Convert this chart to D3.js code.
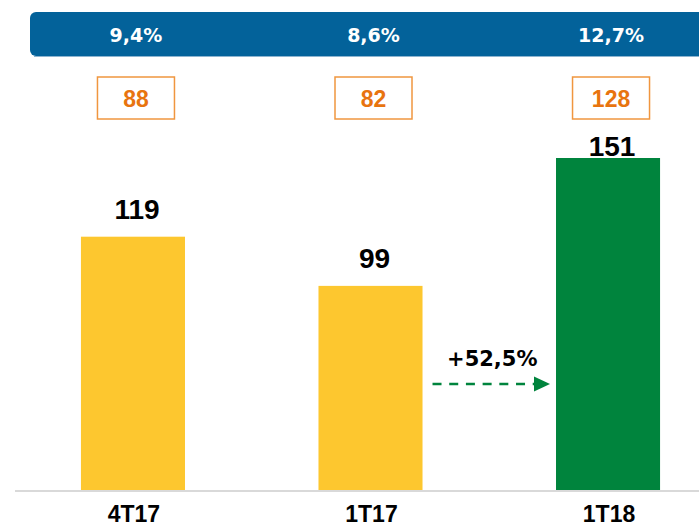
<!DOCTYPE html>
<html>
<head>
<meta charset="utf-8">
<script src="https://cdn.jsdelivr.net/npm/d3@7"></script>
<style>
	body { margin: 0; background: #fff; overflow: hidden; }
	text { font-family: 'Liberation Sans', Arial, sans-serif; font-weight: bold; }
</style>
</head>
<body>
<script>
const width = 699
const height = 529

// data
const categories = ['4T17', '1T17', '1T18']
const values = [119, 99, 151]
const boxValues = [88, 82, 128]
const bandLabels = ['9,4%', '8,6%', '12,7%']
const growthLabel = '+52,5%'

const colors = ['#fdc72f', '#fdc72f', '#00843d']

const svg = d3.select('body').append('svg')
	.attr('width', width)
	.attr('height', height)

const x = d3.scaleBand()
	.domain(categories)
	.range([14.2, 726.8])
	.paddingInner(0.562)
	.paddingOuter(0.281)

const baseline = 490
const y = d3.scaleLinear()
	.domain([16, d3.max(values)])
	.range([baseline, 158])

const cx = d => x(d) + x.bandwidth() / 2

// blue band on top
svg.append('rect')
	.attr('x', 30)
	.attr('y', 12)
	.attr('width', 700)
	.attr('height', 44)
	.attr('rx', 6)
	.attr('fill', '#03629a')

svg.append('line')
	.attr('x1', 34).attr('x2', 699)
	.attr('y1', 56.5).attr('y2', 56.5)
	.attr('stroke', '#8db4d0')
	.attr('stroke-width', 1)

svg.selectAll('.band-label')
	.data(bandLabels)
	.enter()
	.append('text')
		.attr('class', 'band-label')
		.attr('x', (d, i) => cx(categories[i]) + 3)
		.attr('y', 41.5)
		.attr('text-anchor', 'middle')
		.attr('fill', '#fff')
		.style('font-family', "'DejaVu Sans', Verdana, sans-serif")
		.style('font-size', '19px')
		.text(d => d)

// orange boxes
const boxW = 77
const boxTop = 77
const boxH = 42

const boxes = svg.selectAll('.box')
	.data(boxValues)
	.enter()
	.append('g')
		.attr('class', 'box')
		.attr('transform', (d, i) => `translate(${cx(categories[i]) + 3},0)`)

boxes.append('rect')
	.attr('x', -boxW / 2)
	.attr('y', boxTop)
	.attr('width', boxW)
	.attr('height', boxH)
	.attr('fill', '#fff')
	.attr('stroke', '#f0963f')
	.attr('stroke-width', 1.5)

boxes.append('text')
	.attr('y', 106.5)
	.attr('text-anchor', 'middle')
	.attr('fill', '#e8740f')
	.style('font-size', '23px')
	.text(d => d)

// axis line
svg.append('line')
	.attr('x1', 15).attr('x2', width)
	.attr('y1', baseline + 1).attr('y2', baseline + 1)
	.attr('stroke', '#d9d9d9')
	.attr('stroke-width', 2)

// bars
svg.selectAll('.bar')
	.data(values)
	.enter()
	.append('rect')
		.attr('class', 'bar')
		.attr('x', (d, i) => x(categories[i]))
		.attr('y', d => y(d))
		.attr('width', x.bandwidth())
		.attr('height', d => baseline - y(d))
		.attr('fill', (d, i) => colors[i])

// value labels sit above the bar, but never higher than just under the boxes
svg.selectAll('.value')
	.data(values)
	.enter()
	.append('text')
		.attr('class', 'value')
		.attr('x', (d, i) => cx(categories[i]) + 4)
		.attr('y', d => Math.max(y(d) - 17.5, boxTop + boxH + 37))
		.attr('text-anchor', 'middle')
		.attr('fill', '#000')
		.style('font-size', '28px')
		.text(d => d)

// category labels
svg.selectAll('.cat')
	.data(categories)
	.enter()
	.append('text')
		.attr('class', 'cat')
		.attr('x', d => cx(d) + 1)
		.attr('y', 522)
		.attr('text-anchor', 'middle')
		.attr('fill', '#000')
		.style('font-size', '23px')
		.text(d => d)

// growth arrow between 1T17 and 1T18
const ax1 = x(categories[1]) + x.bandwidth() + 10
const ax2 = x(categories[2]) - 6
const ay = 384

svg.append('line')
	.attr('x1', ax1).attr('x2', ax2 - 14)
	.attr('y1', ay).attr('y2', ay)
	.attr('stroke', '#00843d')
	.attr('stroke-width', 2.5)
	.attr('stroke-dasharray', '9 7.7')

svg.append('path')
	.attr('d', `M${ax2 - 16},${ay - 7.5} L${ax2},${ay} L${ax2 - 16},${ay + 7.5} Z`)
	.attr('fill', '#00843d')

svg.append('text')
	.attr('x', (ax1 + ax2) / 2 + 1)
	.attr('y', 366)
	.attr('text-anchor', 'middle')
	.attr('fill', '#000')
	.style('font-family', "'DejaVu Sans', Verdana, sans-serif")
	.style('font-size', '21px')
	.text(growthLabel)
</script>
</body>
</html>
